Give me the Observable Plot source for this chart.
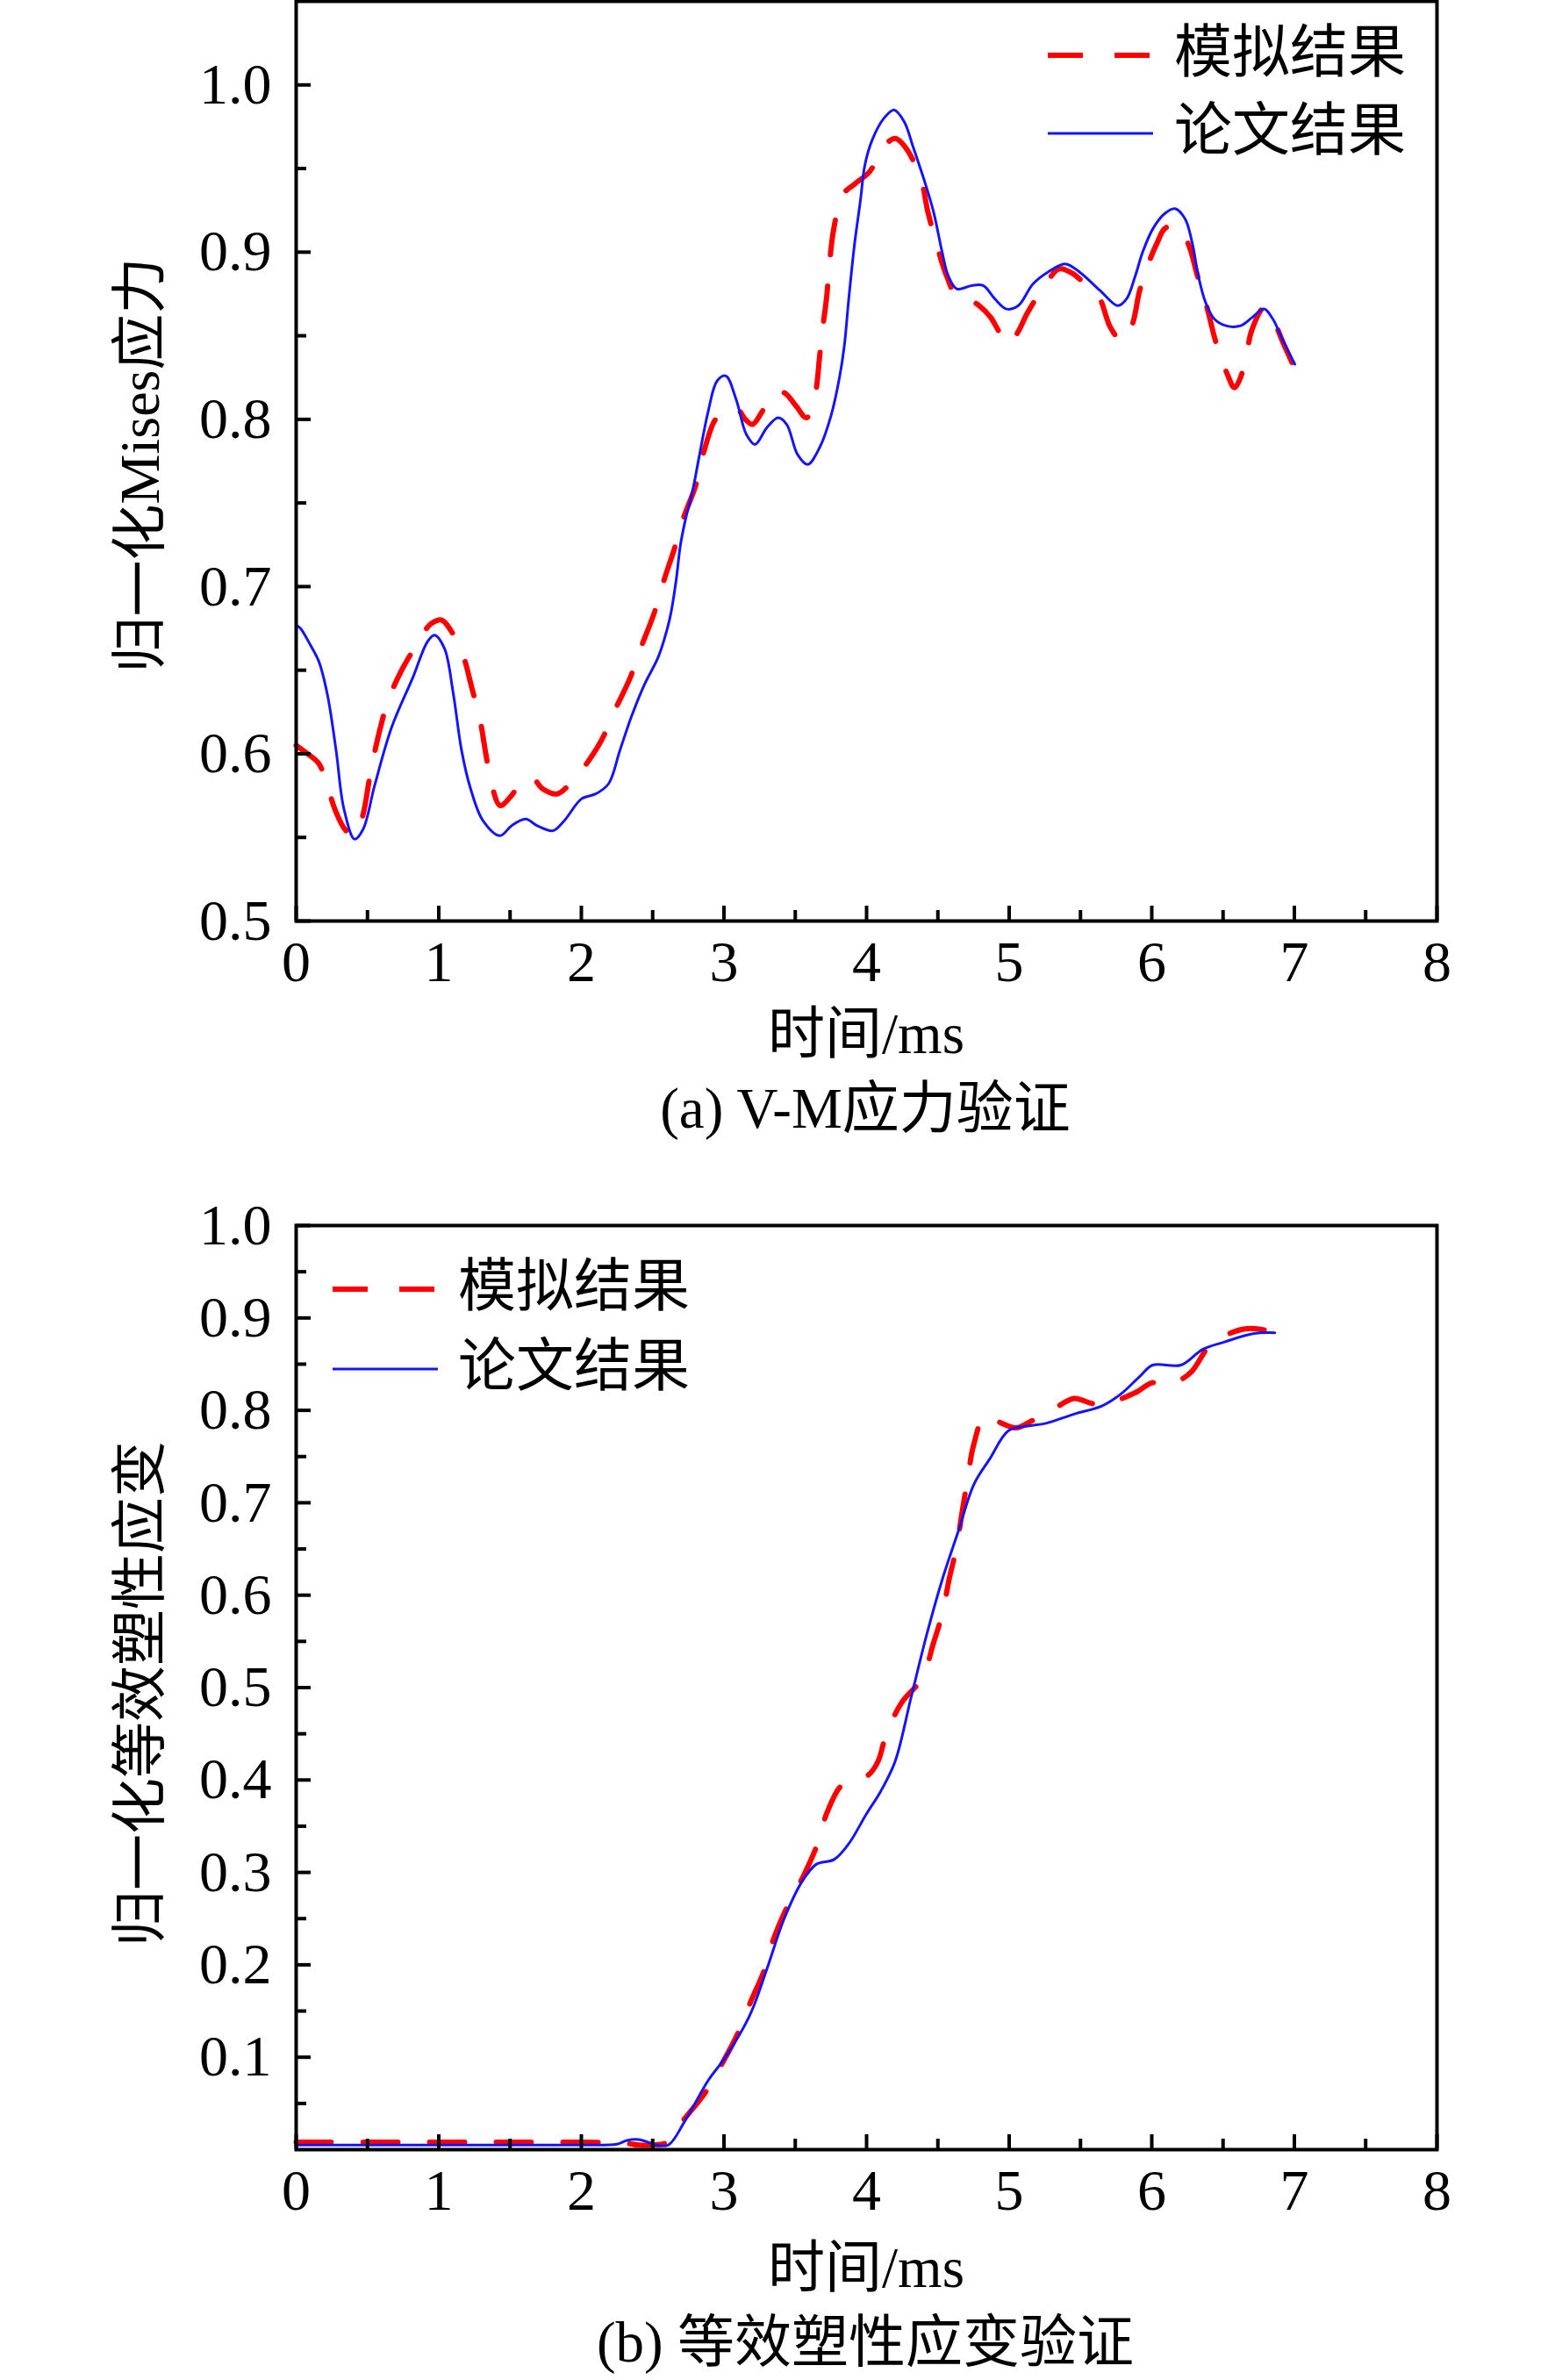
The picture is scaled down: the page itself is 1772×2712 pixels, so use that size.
<!DOCTYPE html>
<html>
<head>
<meta charset="utf-8">
<script src="https://cdn.jsdelivr.net/npm/d3@7"></script>
<script src="https://cdn.jsdelivr.net/npm/@observablehq/plot@0.6"></script>
<style>
  html, body { margin: 0; padding: 0; background: #fff; }
  #fig { position: relative; width: 1772px; height: 2712px; background: #fff; color: #000;
         font-family: "Liberation Serif", "Times New Roman", "Noto Sans CJK SC", serif; }
  .lbl { position: absolute; white-space: nowrap; line-height: 1; color: #000; }
</style>
</head>
<body>
<div id="fig"></div>
<script>
// ---------- data ----------
const SERIES = ["模拟结果", "论文结果"];
const X_TICKS = [0, 1, 2, 3, 4, 5, 6, 7, 8];
const X_MINOR = [0.5, 1.5, 2.5, 3.5, 4.5, 5.5, 6.5, 7.5];
const YA_TICKS = [0.5, 0.6, 0.7, 0.8, 0.9, 1.0];
const YA_MINOR = [0.55, 0.65, 0.75, 0.85, 0.95];
const YB_TICKS = [0.1, 0.2, 0.3, 0.4, 0.5, 0.6, 0.7, 0.8, 0.9, 1.0];
const YB_MINOR = [0.05, 0.15, 0.25, 0.35, 0.45, 0.55, 0.65, 0.75, 0.85, 0.95];

// (a) normalised Mises stress — simulation (red dashed)
const simA = [[0,0.605],[0.08,0.600],[0.16,0.594],[0.22,0.580],[0.28,0.565],[0.34,0.555],[0.40,0.551],[0.46,0.561],[0.52,0.588],[0.58,0.612],[0.65,0.633],[0.74,0.650],[0.82,0.662],[0.88,0.671],[0.95,0.678],[1.02,0.680],[1.09,0.673],[1.17,0.659],[1.23,0.640],[1.29,0.620],[1.33,0.600],[1.37,0.582],[1.43,0.569],[1.50,0.574],[1.58,0.583],[1.65,0.586],[1.73,0.579],[1.83,0.576],[1.92,0.582],[2.01,0.591],[2.14,0.608],[2.24,0.627],[2.34,0.645],[2.42,0.664],[2.51,0.684],[2.58,0.704],[2.65,0.722],[2.72,0.742],[2.80,0.760],[2.86,0.781],[2.94,0.800],[3.01,0.805],[3.085,0.807],[3.15,0.800],[3.20,0.797],[3.27,0.805],[3.34,0.815],[3.42,0.816],[3.505,0.808],[3.577,0.801],[3.62,0.806],[3.65,0.820],[3.67,0.837],[3.69,0.853],[3.72,0.873],[3.74,0.893],[3.77,0.914],[3.83,0.934],[3.92,0.941],[4.02,0.948],[4.13,0.964],[4.20,0.968],[4.27,0.963],[4.38,0.944],[4.43,0.924],[4.49,0.905],[4.56,0.886],[4.63,0.874],[4.71,0.872],[4.79,0.868],[4.87,0.861],[4.94,0.851],[5.00,0.845],[5.06,0.852],[5.13,0.864],[5.25,0.880],[5.35,0.890],[5.45,0.887],[5.54,0.880],[5.63,0.873],[5.71,0.855],[5.79,0.847],[5.86,0.856],[5.915,0.877],[5.98,0.894],[6.04,0.906],[6.09,0.914],[6.16,0.916],[6.25,0.906],[6.32,0.886],[6.39,0.866],[6.45,0.846],[6.53,0.827],[6.58,0.819],[6.65,0.832],[6.70,0.853],[6.79,0.867],[6.85,0.860],[6.92,0.846],[7.01,0.829]];

// (a) paper result (blue solid)
const paperA = [[0,0.677],[0.03,0.675],[0.10,0.665],[0.16,0.655],[0.22,0.635],[0.28,0.602],[0.335,0.567],[0.41,0.549],[0.47,0.555],[0.55,0.581],[0.67,0.616],[0.82,0.646],[0.92,0.667],[0.97,0.671],[1.04,0.663],[1.10,0.637],[1.16,0.602],[1.22,0.580],[1.31,0.560],[1.43,0.551],[1.51,0.557],[1.61,0.561],[1.69,0.557],[1.80,0.554],[1.88,0.560],[2.00,0.573],[2.10,0.576],[2.19,0.582],[2.27,0.602],[2.35,0.622],[2.44,0.641],[2.54,0.658],[2.60,0.674],[2.63,0.685],[2.665,0.704],[2.695,0.725],[2.735,0.742],[2.777,0.756],[2.829,0.779],[2.89,0.805],[2.952,0.823],[3.013,0.826],[3.085,0.812],[3.157,0.791],[3.218,0.785],[3.30,0.795],[3.38,0.801],[3.44,0.797],[3.516,0.779],[3.587,0.773],[3.67,0.783],[3.75,0.802],[3.81,0.825],[3.844,0.844],[3.875,0.872],[3.916,0.905],[3.957,0.931],[3.988,0.952],[4.039,0.967],[4.121,0.980],[4.192,0.985],[4.264,0.978],[4.326,0.963],[4.408,0.942],[4.47,0.924],[4.53,0.900],[4.572,0.886],[4.634,0.878],[4.736,0.880],[4.818,0.880],[4.90,0.872],[4.982,0.866],[5.064,0.868],[5.167,0.881],[5.27,0.888],[5.392,0.893],[5.495,0.888],[5.638,0.877],[5.762,0.868],[5.823,0.872],[5.885,0.886],[5.936,0.900],[6.008,0.914],[6.09,0.923],[6.162,0.926],[6.233,0.920],[6.285,0.905],[6.326,0.886],[6.377,0.870],[6.439,0.860],[6.52,0.856],[6.623,0.856],[6.705,0.861],[6.787,0.866],[6.849,0.860],[6.91,0.849],[6.962,0.840],[7.003,0.833]];

// (b) normalised equivalent plastic strain — simulation (red dashed)
const simB = [[0,0.008],[0.5,0.008],[1.0,0.008],[1.5,0.008],[2.0,0.008],[2.3,0.007],[2.4,0.005],[2.5,0.005],[2.6,0.008],[2.716,0.032],[2.87,0.062],[2.99,0.094],[3.095,0.125],[3.187,0.160],[3.28,0.193],[3.341,0.225],[3.444,0.263],[3.557,0.296],[3.649,0.328],[3.721,0.364],[3.824,0.394],[3.92,0.400],[4.01,0.405],[4.08,0.420],[4.137,0.449],[4.247,0.484],[4.39,0.510],[4.467,0.547],[4.533,0.581],[4.58,0.618],[4.63,0.651],[4.67,0.690],[4.71,0.727],[4.75,0.762],[4.83,0.794],[4.92,0.788],[5.05,0.781],[5.15,0.788],[5.247,0.795],[5.35,0.805],[5.456,0.813],[5.566,0.808],[5.665,0.805],[5.78,0.812],[5.896,0.820],[6.006,0.830],[6.105,0.827],[6.19,0.832],[6.28,0.842],[6.41,0.871],[6.53,0.882],[6.643,0.888],[6.753,0.888],[6.885,0.883]];

// (b) paper result (blue solid)
const paperB = [[0,0.005],[0.5,0.005],[1.0,0.005],[1.5,0.005],[2.0,0.005],[2.25,0.006],[2.32,0.010],[2.40,0.011],[2.47,0.008],[2.52,0.005],[2.61,0.005],[2.726,0.031],[2.89,0.075],[3.01,0.100],[3.177,0.144],[3.30,0.195],[3.42,0.249],[3.547,0.290],[3.649,0.309],[3.772,0.314],[3.875,0.331],[3.998,0.363],[4.10,0.388],[4.20,0.420],[4.313,0.490],[4.423,0.558],[4.533,0.618],[4.643,0.669],[4.753,0.720],[4.862,0.747],[4.995,0.778],[5.127,0.783],[5.258,0.786],[5.456,0.796],[5.654,0.805],[5.786,0.818],[5.918,0.837],[6.006,0.849],[6.204,0.849],[6.357,0.866],[6.511,0.874],[6.709,0.883],[6.863,0.884]];

const TEXT = {
  xLabel: "时间/ms",
  yLabelA: "归一化Mises应力",
  yLabelB: "归一化等效塑性应变",
  captionA: "(a) V-M应力验证",
  captionB: "(b) 等效塑性应变验证"
};

// ---------- styling ----------
const FONT = '"Liberation Serif", "Times New Roman", "Noto Sans CJK SC", serif';
const RED = "#ff0000", BLUE = "#1414ff";
const DASH = "40,36";

const fig = document.getElementById("fig");

function panel({sim, paper, yDomain, yTicks, yMinor, height, marginTop, marginBottom, top}) {
  const chart = Plot.plot({
    width: 1772, height,
    marginLeft: 337, marginRight: 135, marginTop, marginBottom,
    x: {domain: [0, 8]},
    y: {domain: yDomain},
    style: {fontFamily: FONT, fontSize: "66px", color: "#000", background: "transparent", overflow: "visible"},
    marks: [
      Plot.line(sim, {x: d => d[0], y: d => d[1], stroke: RED, strokeWidth: 6, strokeDasharray: DASH, curve: "catmull-rom"}),
      Plot.line(paper, {x: d => d[0], y: d => d[1], stroke: BLUE, strokeWidth: 3, curve: "catmull-rom"}),
      Plot.axisX(X_TICKS, {tickSize: 0, tickPadding: 22, fontSize: 66, tickFormat: d3.format("d"), label: null}),
      Plot.axisX(X_TICKS, {tickSize: -17, text: null, strokeWidth: 4, label: null}),
      Plot.axisX(X_MINOR, {tickSize: -12, text: null, strokeWidth: 4, label: null}),
      Plot.axisY(yTicks, {tickSize: 0, tickPadding: 28, fontSize: 66, tickFormat: d3.format(".1f"), label: null}),
      Plot.axisY(yTicks, {tickSize: -17, text: null, strokeWidth: 4, label: null}),
      Plot.axisY(yMinor, {tickSize: -12, text: null, strokeWidth: 4, label: null}),
      Plot.frame({stroke: "#000", strokeWidth: 4})
    ]
  });
  chart.style.position = "absolute";
  chart.style.left = "0px";
  chart.style.top = top + "px";
  fig.appendChild(chart);
}

panel({sim: simA, paper: paperA, yDomain: [0.5, 1.05], yTicks: YA_TICKS, yMinor: YA_MINOR,
       height: 1140, marginTop: 1, marginBottom: 91, top: 0});
panel({sim: simB, paper: paperB, yDomain: [0, 1.0], yTicks: YB_TICKS, yMinor: YB_MINOR,
       height: 1200, marginTop: 66, marginBottom: 81, top: 1330});

function addText(str, cx, cy, size, rotate) {
  const d = document.createElement("div");
  d.className = "lbl";
  d.textContent = str;
  d.style.left = cx + "px";
  d.style.top = cy + "px";
  d.style.fontSize = size + "px";
  d.style.transform = "translate(-50%, -50%)" + (rotate ? " rotate(-90deg)" : "");
  fig.appendChild(d);
}

addText(TEXT.yLabelA, 160, 530, 64, true);
addText(TEXT.yLabelB, 160, 1930, 64, true);
addText(TEXT.xLabel, 987, 1178, 65, false);
addText(TEXT.xLabel, 987, 2584, 65, false);
addText(TEXT.captionA, 986, 1263, 65, false);
addText(TEXT.captionB, 986, 2669, 65, false);

// legends (inside plot frames)
function legend(lineX, yRed, yBlue, textX) {
  const items = [
    {name: SERIES[0], color: RED, width: 6, dash: DASH, y: yRed},
    {name: SERIES[1], color: BLUE, width: 3, dash: null, y: yBlue}
  ];
  for (const it of items) {
    const w = 120;
    const svg = d3.create("svg").attr("width", w).attr("height", 20)
      .style("position", "absolute").style("left", lineX + "px").style("top", (it.y - 10) + "px");
    svg.append("line").attr("x1", 0).attr("x2", w).attr("y1", 10).attr("y2", 10)
      .attr("stroke", it.color).attr("stroke-width", it.width)
      .attr("stroke-dasharray", it.dash);
    fig.appendChild(svg.node());
    const t = document.createElement("div");
    t.className = "lbl";
    t.textContent = it.name;
    t.style.left = textX + "px";
    t.style.top = (it.y - 3) + "px";
    t.style.fontSize = "66px";
    t.style.transform = "translate(0, -50%)";
    fig.appendChild(t);
  }
}
legend(1194, 63, 152, 1338);
legend(379, 1469, 1560, 522);
</script>
</body>
</html>
